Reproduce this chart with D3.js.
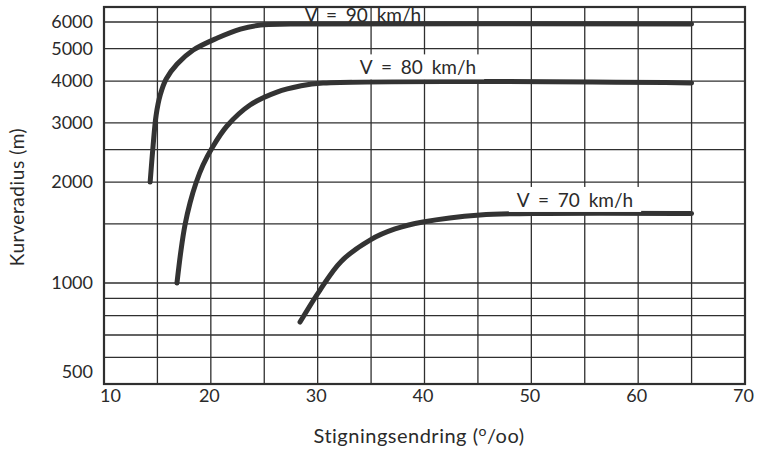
<!DOCTYPE html>
<html>
<head>
<meta charset="utf-8">
<script src="https://cdn.jsdelivr.net/npm/d3@7"></script>
<style>
  body { margin: 0; background: #fff; }
  svg { display: block; }
  text { font-family: Lato, "Open Sans", sans-serif; fill: #2a2a2a; }
</style>
</head>
<body>
<svg id="chart" width="763" height="451"></svg>
<script>
// ---- data ----
const xTicks = [10, 20, 30, 40, 50, 60, 70];
const xGrid = [15, 20, 25, 30, 35, 40, 45, 50, 55, 60, 65];
const yTicks = [500, 1000, 2000, 3000, 4000, 5000, 6000];
const yGrid = [600, 700, 800, 900, 1000, 1500, 2000, 2500, 3000, 4000, 5000, 6000];

const v90x = [14.32, 14.6, 14.88, 15.26, 15.82, 16.85, 18.36, 20.61, 22.77, 24.65, 27.46, 65];
const v90y = [2000, 2578, 3168, 3635, 4057, 4496, 4950, 5375, 5715, 5875, 5915, 5915];
const v80x = [16.83, 17.21, 17.58, 18.05, 18.61, 19.27, 20.11, 21.51, 23.67, 26.19, 28.35, 30.5, 65];
const v80y = [1000, 1254, 1489, 1732, 1987, 2247, 2526, 2938, 3394, 3709, 3866, 3945, 3950];
const v70x = [28.35, 30.22, 32.2, 34.9, 37.24, 39.86, 45.2, 50.16, 65];
const v70y = [765, 953, 1160, 1343, 1449, 1520, 1595, 1611, 1612];

const seriesLabels = ["V = 90 km/h", "V = 80 km/h", "V = 70 km/h"];
const xTitle = "Stigningsendring (";
const yTitle = "Kurveradius (m)";

// ---- layout ----
const W = 763, H = 451;
const m = { left: 104, top: 7, right: 18, bottom: 67 };
const svg = d3.select("#chart");
const x = d3.scaleLinear().domain([10, 70]).range([m.left, W - m.right]);
const y = d3.scaleLog().domain([500, 6650]).range([H - m.bottom, m.top]);

const ink = "#2f2f2f";

// grid
const g = svg.append("g");
g.selectAll("line.vg").data(xGrid).join("line")
  .attr("x1", d => x(d)).attr("x2", d => x(d))
  .attr("y1", y(500)).attr("y2", y(6650))
  .attr("stroke", ink).attr("stroke-width", 1.3);
g.selectAll("line.hg").data(yGrid).join("line")
  .attr("x1", x(10)).attr("x2", x(70))
  .attr("y1", d => y(d)).attr("y2", d => y(d))
  .attr("stroke", ink).attr("stroke-width", 1.3);

// border
svg.append("rect")
  .attr("x", x(10)).attr("y", y(6650))
  .attr("width", x(70) - x(10)).attr("height", y(500) - y(6650))
  .attr("fill", "none").attr("stroke", ink).attr("stroke-width", 2.2);

// axes (labels only)
const xAxis = d3.axisBottom(x).tickValues(xTicks).tickSize(0).tickPadding(5);
const xg = svg.append("g").attr("transform", `translate(0,${y(500)})`).call(xAxis);
xg.select(".domain").remove();
xg.selectAll("text").style("font-size", "18px").style("fill", "#2a2a2a")
  .style("font-family", "Lato, 'Open Sans', sans-serif")
  .attr("dx", (d, i) => i === 0 ? 6 : -2);

const yAxis = d3.axisLeft(y).tickValues(yTicks).tickSize(0).tickPadding(11)
  .tickFormat(d3.format("d"));
const yg = svg.append("g").attr("transform", `translate(${x(10)},0)`).call(yAxis);
yg.select(".domain").remove();
yg.selectAll("text").style("font-size", "18px").style("fill", "#2a2a2a")
  .style("font-family", "Lato, 'Open Sans', sans-serif")
  .attr("dy", d => d === 500 ? "-0.35em" : "0.32em");

// label boxes
function boxLabel(text, cx, cy, box) {
  const t = svg.append("text").attr("x", cx).attr("y", cy)
    .attr("text-anchor", "middle").attr("dominant-baseline", "central")
    .style("font-size", "19px").style("word-spacing", "4px").text(text);
  if (box) {
    const b = t.node().getBBox();
    svg.insert("rect", () => t.node())
      .attr("x", b.x - 8).attr("y", b.y - 1)
      .attr("width", b.width + 16).attr("height", b.height + 2)
      .attr("fill", "#fff");
  }
  return t;
}

// curves
const line = d3.line().x(d => x(d[0])).y(d => y(d[1])).curve(d3.curveCatmullRom.alpha(0.5));
const series = [d3.zip(v90x, v90y), d3.zip(v80x, v80y), d3.zip(v70x, v70y)];
svg.selectAll("path.curve").data(series).join("path")
  .attr("class", "curve")
  .attr("d", line)
  .attr("fill", "none").attr("stroke", "#333")
  .attr("stroke-width", 5).attr("stroke-linecap", "round").attr("stroke-linejoin", "round");

boxLabel(seriesLabels[1], 418, y(3950) - 16, true);
boxLabel(seriesLabels[2], 575, y(1612) - 14, true);
boxLabel(seriesLabels[0], 363, 14, false);

// axis titles
const xt = svg.append("text").attr("x", 419).attr("y", 443)
  .attr("text-anchor", "middle").style("font-size", "20px").style("letter-spacing", "0.5px");
xt.append("tspan").text(xTitle);
xt.append("tspan").text("o").attr("dy", -7).style("font-size", "14px");
xt.append("tspan").text("/oo)").attr("dy", 7);

svg.append("text")
  .attr("transform", "translate(16,197) rotate(-90)")
  .attr("text-anchor", "middle").attr("dominant-baseline", "central")
  .style("font-size", "19px").style("letter-spacing", "0.6px").text(yTitle);
</script>
</body>
</html>
